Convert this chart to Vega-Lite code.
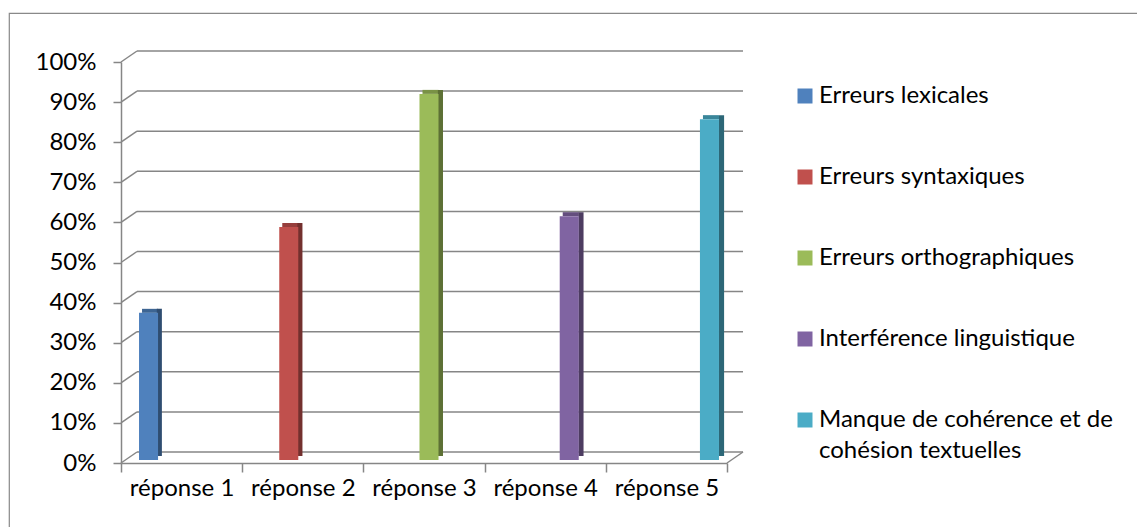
{
  "$schema": "https://vega.github.io/schema/vega-lite/v6.json",
  "autosize": "none",
  "padding": {"left": 9, "top": 13, "right": 0, "bottom": 0},
  "width": 1130,
  "height": 516,
  "background": "white",
  "config": {
    "view": {"stroke": "#898989", "strokeWidth": 1.2},
    "axis": {"domainColor": "#868686", "tickColor": "#868686", "domainWidth": 1.5, "tickWidth": 1.5, "labelFont": "Lato", "labelFontSize": 24, "labelColor": "#000000", "title": null, "grid": false},
    "legend": {"labelFont": "Lato", "labelFontSize": 24, "labelColor": "#000000", "symbolType": "square", "symbolSize": 225, "symbolStrokeWidth": 0, "labelLimit": 600, "padding": 0},
    "style": {"guide-label": {"lineHeight": 31}}
  },
  "datasets": {
    "reponses": [
      {"categorie": "réponse 1", "serie": "Erreurs lexicales", "valeur": 0.367},
      {"categorie": "réponse 2", "serie": "Erreurs syntaxiques", "valeur": 0.581},
      {"categorie": "réponse 3", "serie": "Erreurs orthographiques", "valeur": 0.913},
      {"categorie": "réponse 4", "serie": "Interférence linguistique", "valeur": 0.608},
      {"categorie": "réponse 5", "serie": "Manque de cohérence et de cohésion textuelles", "valeur": 0.85}
    ],
    "grille": [
      {"v": 0}, {"v": 0.1}, {"v": 0.2}, {"v": 0.3}, {"v": 0.4}, {"v": 0.5},
      {"v": 0.6}, {"v": 0.7}, {"v": 0.8}, {"v": 0.9}, {"v": 1}
    ]
  },
  "layer": [
    {
      "data": {"name": "grille"},
      "mark": {"type": "rule", "color": "#868686", "strokeWidth": 1.5, "xOffset": 16, "x2Offset": 16, "yOffset": -11},
      "encoding": {
        "x": {"datum": 0, "type": "quantitative", "scale": {"domain": [0, 5], "range": [112, 718]}, "axis": null},
        "x2": {"datum": 5},
        "y": {"field": "v", "type": "quantitative", "scale": {"domain": [0, 1], "range": [450, 49]}, "axis": {"orient": "left", "offset": -112, "values": [0, 0.1, 0.2, 0.3, 0.4, 0.5, 0.6, 0.7, 0.8, 0.9, 1], "format": ".0%", "tickSize": 8, "labelPadding": 17}}
      }
    },
    {
      "data": {"name": "grille"},
      "mark": {"type": "rule", "color": "#868686", "strokeWidth": 1.5, "x2Offset": 16, "y2Offset": -11},
      "encoding": {
        "x": {"datum": 0, "type": "quantitative", "scale": {"domain": [0, 5], "range": [112, 718]}, "axis": null},
        "x2": {"datum": 0},
        "y": {"field": "v", "type": "quantitative"},
        "y2": {"field": "v"}
      }
    },
    {
      "data": {"values": [{"v": 0}]},
      "mark": {"type": "rule", "color": "#868686", "strokeWidth": 1.5, "x2Offset": 16, "y2Offset": -11},
      "encoding": {
        "x": {"datum": 5, "type": "quantitative", "scale": {"domain": [0, 5], "range": [112, 718]}, "axis": null},
        "x2": {"datum": 5},
        "y": {"field": "v", "type": "quantitative"},
        "y2": {"field": "v"}
      }
    },
    {
      "data": {"name": "reponses"},
      "mark": {"type": "bar", "yOffset": -7, "y2Offset": -3},
      "encoding": {
        "x": {"field": "categorie", "type": "nominal", "scale": {"range": [112, 718], "paddingInner": 0, "paddingOuter": 0}, "axis": null},
        "xOffset": {"field": "serie", "type": "nominal", "scale": {"domain": ["Erreurs lexicales", "Erreurs syntaxiques", "Erreurs orthographiques", "Interférence linguistique", "Manque de cohérence et de cohésion textuelles"], "paddingInner": 0.158, "paddingOuter": 0.763, "align": 0.724}},
        "y": {"field": "valeur", "type": "quantitative"},
        "y2": {"field": "valeur"},
        "color": {"field": "serie", "type": "nominal", "legend": null, "scale": {"domain": ["Erreurs lexicales", "Erreurs syntaxiques", "Erreurs orthographiques", "Interférence linguistique", "Manque de cohérence et de cohésion textuelles"], "range": ["#3D6593", "#963E3C", "#799245", "#644E7E", "#3A869A"]}}
      }
    },
    {
      "data": {"name": "reponses"},
      "mark": {"type": "bar", "yOffset": -7, "y2Offset": -5},
      "encoding": {
        "x": {"field": "categorie", "type": "nominal", "scale": {"range": [112, 718], "paddingInner": 0, "paddingOuter": 0}, "axis": null},
        "xOffset": {"field": "serie", "type": "nominal", "scale": {"domain": ["Erreurs lexicales", "Erreurs syntaxiques", "Erreurs orthographiques", "Interférence linguistique", "Manque de cohérence et de cohésion textuelles"], "paddingInner": 0.737, "paddingOuter": 1.0526, "align": 0.925}},
        "y": {"field": "valeur", "type": "quantitative"},
        "color": {"field": "serie", "type": "nominal", "legend": null, "scale": {"domain": ["Erreurs lexicales", "Erreurs syntaxiques", "Erreurs orthographiques", "Interférence linguistique", "Manque de cohérence et de cohésion textuelles"], "range": ["#2F4D71", "#73302E", "#5D7035", "#4D3C61", "#2D6777"]}}
      }
    },
    {
      "data": {"name": "reponses"},
      "mark": {"type": "bar", "yOffset": -3, "y2Offset": -3},
      "encoding": {
        "x": {"field": "categorie", "type": "nominal", "scale": {"range": [112, 718], "paddingInner": 0, "paddingOuter": 0}, "axis": {"orient": "bottom", "offset": -66, "tickBand": "extent", "tickSize": 9, "labelAngle": 0, "labelPadding": 4}},
        "xOffset": {"field": "serie", "type": "nominal", "scale": {"domain": ["Erreurs lexicales", "Erreurs syntaxiques", "Erreurs orthographiques", "Interférence linguistique", "Manque de cohérence et de cohésion textuelles"], "paddingInner": 0, "paddingOuter": 0.684, "align": 0.692}},
        "y": {"field": "valeur", "type": "quantitative"},
        "color": {"field": "serie", "type": "nominal", "scale": {"domain": ["Erreurs lexicales", "Erreurs syntaxiques", "Erreurs orthographiques", "Interférence linguistique", "Manque de cohérence et de cohésion textuelles"], "range": ["#4F81BD", "#C0504D", "#9BBB59", "#8064A2", "#4BACC6"]},
          "legend": {"orient": "none", "legendX": 784, "legendY": 71, "title": null, "rowPadding": 57, "labelOffset": 2, "labelExpr": "datum.label == 'Manque de cohérence et de cohésion textuelles' ? ['Manque de cohérence et de', 'cohésion textuelles'] : datum.label"}}
      }
    }
  ],
  "resolve": {"scale": {"x": "independent", "xOffset": "independent", "color": "independent"}}
}
